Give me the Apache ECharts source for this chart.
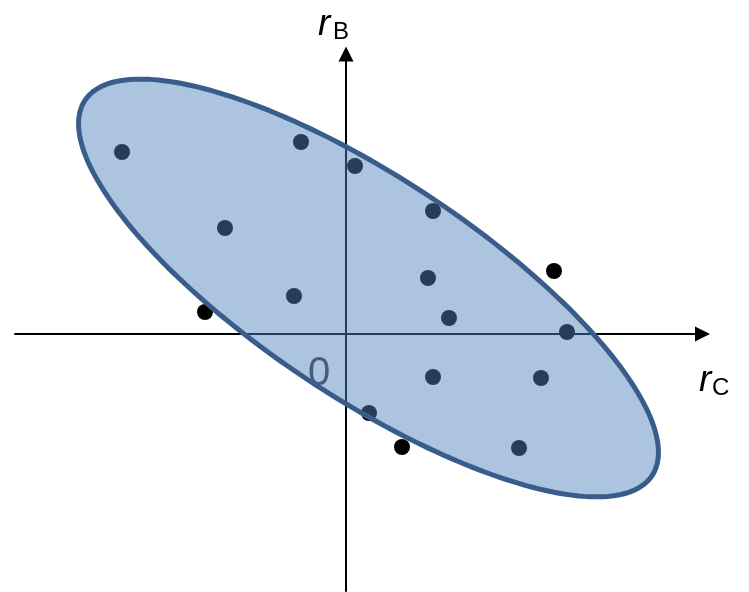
<!DOCTYPE html>
<html>
<head>
<meta charset="utf-8">
<script src="https://cdn.jsdelivr.net/npm/echarts@6/dist/echarts.min.js"></script>
<style>
  html, body { margin: 0; padding: 0; background: #fff; }
  #chart { width: 749px; height: 592px; }
</style>
</head>
<body>
<div id="chart"></div>
<script>
// Observed return pairs (r_C, r_B)
const rC = [-2.24, -0.45, 0.09, -1.21, 0.87, 2.08, 0.82, -0.52, 1.03, -1.41, 2.21, 0.87, 1.95, 0.23, 0.56, 1.73];
const rB = [1.82, 1.92, 1.68, 1.06, 1.23, 0.63, 0.56, 0.38, 0.16, 0.22, 0.02, -0.43, -0.44, -0.79, -1.13, -1.14];

// Confidence ellipse: centre, semi-axes and tilt of the major axis (degrees)
const ellipseCenter = [0.225, 0.46];
const ellipseAxes = [3.40, 1.10];
const ellipseTilt = -33.5;

const originLabel = '0';

const points = rC.map((x, i) => [x, rB[i]]);

const chart = echarts.init(document.getElementById('chart'), null, { renderer: 'canvas' });

const axisCommon = {
  type: 'value',
  axisTick: { show: false },
  axisLabel: { show: false },
  splitLine: { show: false },
  axisLine: {
    show: true,
    onZero: true,
    symbol: ['none', 'triangle'],
    symbolSize: [15, 15],
    lineStyle: { color: '#000', width: 2 }
  }
};

chart.setOption({
  animation: false,
  backgroundColor: '#fff',
  grid: { left: 15, right: 46.5, top: 54, bottom: 1, containLabel: false },
  xAxis: Object.assign({}, axisCommon, { min: -3.31, max: 3.565 }),
  yAxis: Object.assign({}, axisCommon, { min: -2.57, max: 2.80 }),
  series: [
    {
      type: 'scatter',
      z: 2,
      symbol: 'circle',
      symbolSize: 16,
      itemStyle: { color: '#000', opacity: 1 },
      emphasis: { disabled: true },
      data: points
    },
    {
      type: 'scatter',
      z: 2,
      symbolSize: 0,
      silent: true,
      itemStyle: { color: '#000' },
      data: [[0, 0]],
      label: {
        show: true,
        formatter: originLabel,
        position: 'inside',
        offset: [-27, 40],
        color: '#111',
        textBorderWidth: 0,
        textBorderColor: 'transparent',
        fontFamily: 'Liberation Sans, Arial, sans-serif',
        fontSize: 40
      }
    },
    {
      type: 'custom',
      z: 3,
      clip: false,
      silent: true,
      data: [[ellipseCenter[0], ellipseCenter[1], ellipseAxes[0], ellipseAxes[1], ellipseTilt]],
      renderItem: function (params, api) {
        const cx = api.value(0), cy = api.value(1);
        const a = api.value(2), b = api.value(3);
        const th = api.value(4) * Math.PI / 180;
        const pts = [];
        const n = 240;
        for (let k = 0; k < n; k++) {
          const t = (k / n) * Math.PI * 2;
          const ex = cx + a * Math.cos(t) * Math.cos(th) - b * Math.sin(t) * Math.sin(th);
          const ey = cy + a * Math.cos(t) * Math.sin(th) + b * Math.sin(t) * Math.cos(th);
          pts.push(api.coord([ex, ey]));
        }
        return {
          type: 'polygon',
          shape: { points: pts },
          style: {
            fill: 'rgba(79,129,189,0.47)',
            stroke: '#385D8A',
            lineWidth: 5
          }
        };
      }
    }
  ],
  graphic: [
    { type: 'text', left: 318, top: 6, style: { text: 'r', font: 'italic 37px "Liberation Sans", Arial, sans-serif', fill: '#000' } },
    { type: 'text', left: 333, top: 20, style: { text: 'B', font: '24px "Liberation Sans", Arial, sans-serif', fill: '#000' } },
    { type: 'text', left: 699, top: 362, style: { text: 'r', font: 'italic 37px "Liberation Sans", Arial, sans-serif', fill: '#000' } },
    { type: 'text', left: 712, top: 376, style: { text: 'C', font: '24px "Liberation Sans", Arial, sans-serif', fill: '#000' } }
  ]
});
</script>
</body>
</html>
